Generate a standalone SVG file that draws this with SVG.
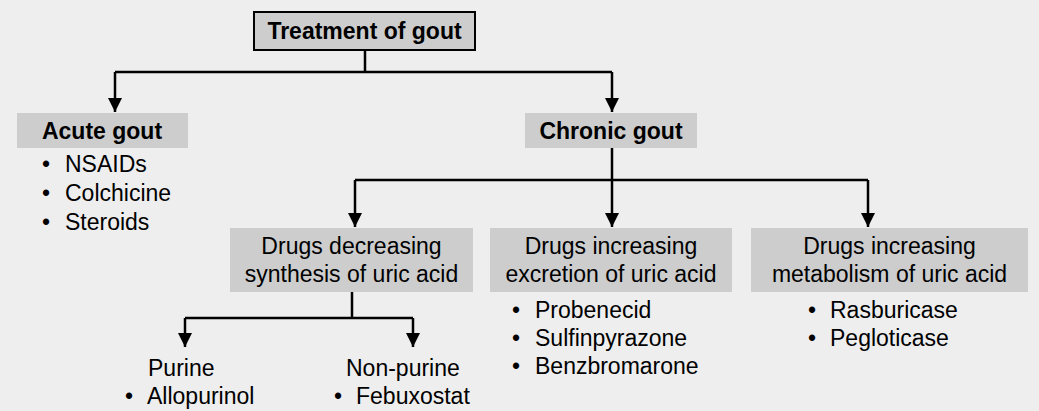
<svg xmlns="http://www.w3.org/2000/svg" width="1039" height="411" viewBox="0 0 1039 411">
<defs><marker id="d" markerWidth="14" markerHeight="14" refX="14" refY="7" orient="auto" markerUnits="userSpaceOnUse"><path d="M0,0 L14,7 L0,14 z" fill="#000"/></marker></defs>
<style>
text{font-family:"Liberation Sans",Arial,sans-serif;font-size:23px;fill:#000}
.b{font-weight:bold}
.box{fill:#cdcdcd}
.c{fill:none;stroke:#000;stroke-width:2.5}
</style>
<rect width="1039" height="411" fill="#eeeeee"/>
<g id="connectors">
<path class="c" d="M365,50 V72 M115,72 H612"/>
<path class="c" d="M115,72 V112" marker-end="url(#d)"/>
<path class="c" d="M612,72 V112" marker-end="url(#d)"/>
<path class="c" d="M612,148 V180 M355,180 H868"/>
<path class="c" d="M355,180 V227" marker-end="url(#d)"/>
<path class="c" d="M612,180 V227" marker-end="url(#d)"/>
<path class="c" d="M868,180 V227" marker-end="url(#d)"/>
<path class="c" d="M352,292 V318 M185,318 H413"/>
<path class="c" d="M185,318 V347" marker-end="url(#d)"/>
<path class="c" d="M413,318 V347" marker-end="url(#d)"/>
</g>
<g id="treatment"><rect x="254" y="12" width="221" height="38" class="box" stroke="#000" stroke-width="2"/><text x="364.5" y="39" text-anchor="middle" class="b">Treatment of gout</text></g>
<g id="acute"><rect x="17" y="113" width="171" height="35" class="box"/><text x="102" y="139" text-anchor="middle" class="b">Acute gout</text>
<text x="42" y="172">•</text><text x="65" y="172">NSAIDs</text>
<text x="42" y="201">•</text><text x="65" y="201">Colchicine</text>
<text x="42" y="230">•</text><text x="65" y="230">Steroids</text></g>
<g id="chronic"><rect x="525" y="113" width="172" height="35" class="box"/><text x="611" y="139" text-anchor="middle" class="b">Chronic gout</text></g>
<g id="decreasing"><rect x="230" y="228" width="243" height="64" class="box"/><text x="351.5" y="254" text-anchor="middle">Drugs decreasing</text><text x="351.5" y="282" text-anchor="middle">synthesis of uric acid</text></g>
<g id="excretion"><rect x="490" y="228" width="242" height="64" class="box"/><text x="611" y="254" text-anchor="middle">Drugs increasing</text><text x="611" y="282" text-anchor="middle">excretion of uric acid</text>
<text x="512" y="318">•</text><text x="535" y="318">Probenecid</text>
<text x="512" y="346">•</text><text x="535" y="346">Sulfinpyrazone</text>
<text x="512" y="374">•</text><text x="535" y="374">Benzbromarone</text></g>
<g id="metabolism"><rect x="751" y="228" width="277" height="64" class="box"/><text x="889.5" y="254" text-anchor="middle">Drugs increasing</text><text x="889.5" y="282" text-anchor="middle">metabolism of uric acid</text>
<text x="808" y="318">•</text><text x="830" y="318">Rasburicase</text>
<text x="808" y="346">•</text><text x="830" y="346">Pegloticase</text></g>
<g id="purine"><text x="148" y="376">Purine</text><text x="125" y="404">•</text><text x="147" y="404">Allopurinol</text></g>
<g id="nonpurine"><text x="346" y="376">Non-purine</text><text x="334" y="404">•</text><text x="356" y="404">Febuxostat</text></g>
</svg>
